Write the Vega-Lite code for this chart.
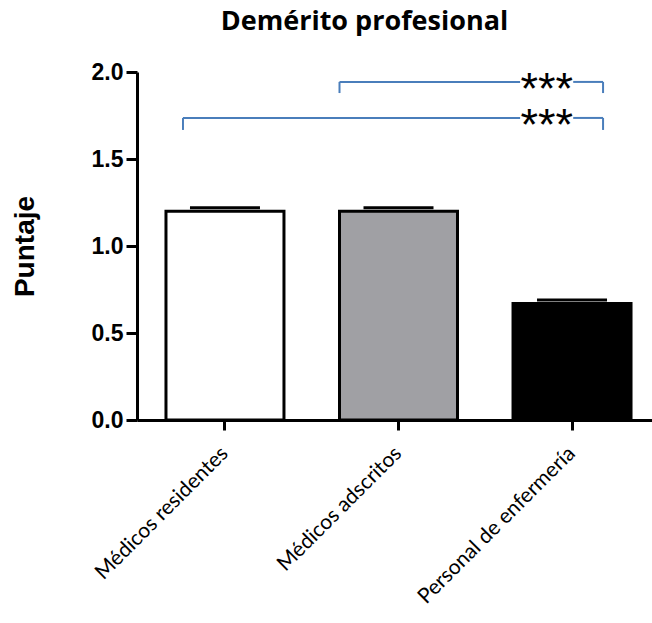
{
  "$schema": "https://vega.github.io/schema/vega-lite/v6.json",
  "autosize": "none",
  "padding": {"left": 137, "top": 72, "right": 0, "bottom": 203},
  "width": 515,
  "height": 348,
  "background": "white",
  "config": {
    "view": {"stroke": null},
    "axis": {"domainColor": "black", "tickColor": "black", "domainWidth": 3, "tickWidth": 3, "grid": false, "labelColor": "black", "titleColor": "black"},
    "axisY": {"labelFont": "Liberation Sans", "labelFontWeight": "bold", "labelFontSize": 23, "tickSize": 11, "labelPadding": 3, "titleFont": "Liberation Sans", "titleFontWeight": "bold", "titleFontSize": 28, "titlePadding": 52},
    "axisX": {"labelFont": "Lato", "labelFontSize": 21, "labelAngle": -45, "labelAlign": "right", "labelBaseline": "middle", "labelPadding": 20, "labelLimit": 400, "tickSize": 10}
  },
  "title": {"text": "Demérito profesional", "font": "Open Sans", "fontWeight": "bold", "fontSize": 27, "color": "black", "anchor": "middle", "dx": -30, "offset": 25},
  "datasets": {
    "grupos": [
      {"grupo": "Médicos residentes", "puntaje": 1.2, "superior": 1.22},
      {"grupo": "Médicos adscritos", "puntaje": 1.2, "superior": 1.22},
      {"grupo": "Personal de enfermería", "puntaje": 0.67, "superior": 0.69}
    ],
    "comparaciones": [
      {"comparacion": "adscritos", "desde": "Médicos adscritos", "hasta": "Personal de enfermería", "nivel": 1.943, "pie": 1.879, "sig": "***"},
      {"comparacion": "residentes", "desde": "Médicos residentes", "hasta": "Personal de enfermería", "nivel": 1.736, "pie": 1.667, "sig": "***"}
    ]
  },
  "layer": [
    {
      "data": {"name": "grupos"},
      "mark": {"type": "bar", "stroke": "black", "strokeWidth": 3},
      "encoding": {
        "x": {"field": "grupo", "type": "nominal", "title": null, "scale": {"domain": ["Médicos residentes", "Médicos adscritos", "Personal de enfermería"], "range": [0, 523], "paddingInner": 0.32, "paddingOuter": 0.167}},
        "y": {"field": "puntaje", "type": "quantitative", "title": "Puntaje", "scale": {"domain": [0, 2], "nice": false}, "axis": {"values": [0, 0.5, 1, 1.5, 2], "format": ".1f"}},
        "fill": {"field": "grupo", "type": "nominal", "scale": {"domain": ["Médicos residentes", "Médicos adscritos", "Personal de enfermería"], "range": ["#ffffff", "#a0a0a4", "#000000"]}, "legend": null}
      }
    },
    {
      "data": {"name": "grupos"},
      "mark": {"type": "tick", "color": "black", "opacity": 1, "size": 70, "thickness": 3, "orient": "horizontal"},
      "encoding": {
        "x": {"field": "grupo", "type": "nominal", "title": null},
        "y": {"field": "superior", "type": "quantitative", "title": "Puntaje"}
      }
    },
    {
      "data": {"name": "comparaciones"},
      "transform": [{"filter": "datum.comparacion == 'adscritos'"}],
      "layer": [
        {
          "mark": {"type": "rule", "color": "#4a7ebb", "strokeWidth": 2},
          "encoding": {
            "x": {"field": "desde", "type": "nominal", "bandPosition": 0.0, "title": null},
            "x2": {"field": "hasta", "bandPosition": 0.06},
            "y": {"field": "nivel", "type": "quantitative", "title": "Puntaje"}
          }
        },
        {
          "mark": {"type": "rule", "color": "#4a7ebb", "strokeWidth": 2},
          "encoding": {
            "x": {"field": "desde", "type": "nominal", "bandPosition": 0.0, "title": null},
            "y": {"field": "nivel", "type": "quantitative", "title": "Puntaje"},
            "y2": {"field": "pie"}
          }
        }
      ]
    },
    {
      "data": {"name": "comparaciones"},
      "transform": [{"filter": "datum.comparacion == 'residentes'"}],
      "layer": [
        {
          "mark": {"type": "rule", "color": "#4a7ebb", "strokeWidth": 2},
          "encoding": {
            "x": {"field": "desde", "type": "nominal", "bandPosition": 0.144, "title": null},
            "x2": {"field": "hasta", "bandPosition": 0.06},
            "y": {"field": "nivel", "type": "quantitative", "title": "Puntaje"}
          }
        },
        {
          "mark": {"type": "rule", "color": "#4a7ebb", "strokeWidth": 2},
          "encoding": {
            "x": {"field": "desde", "type": "nominal", "bandPosition": 0.144, "title": null},
            "y": {"field": "nivel", "type": "quantitative", "title": "Puntaje"},
            "y2": {"field": "pie"}
          }
        }
      ]
    },
    {
      "data": {"name": "comparaciones"},
      "layer": [
        {
          "mark": {"type": "rule", "color": "#4a7ebb", "strokeWidth": 2},
          "encoding": {
            "x": {"field": "hasta", "type": "nominal", "bandPosition": 0.51, "title": null},
            "x2": {"field": "hasta", "bandPosition": 0.763},
            "y": {"field": "nivel", "type": "quantitative", "title": "Puntaje"}
          }
        },
        {
          "mark": {"type": "rule", "color": "#4a7ebb", "strokeWidth": 2},
          "encoding": {
            "x": {"field": "hasta", "type": "nominal", "bandPosition": 0.763, "title": null},
            "y": {"field": "nivel", "type": "quantitative", "title": "Puntaje"},
            "y2": {"field": "pie"}
          }
        },
        {
          "mark": {"type": "text", "font": "Liberation Sans", "fontSize": 45, "color": "black", "align": "center", "baseline": "alphabetic", "dy": 22},
          "encoding": {
            "x": {"field": "hasta", "type": "nominal", "bandPosition": 0.285, "title": null},
            "y": {"field": "nivel", "type": "quantitative", "title": "Puntaje"},
            "text": {"field": "sig"}
          }
        }
      ]
    }
  ]
}
